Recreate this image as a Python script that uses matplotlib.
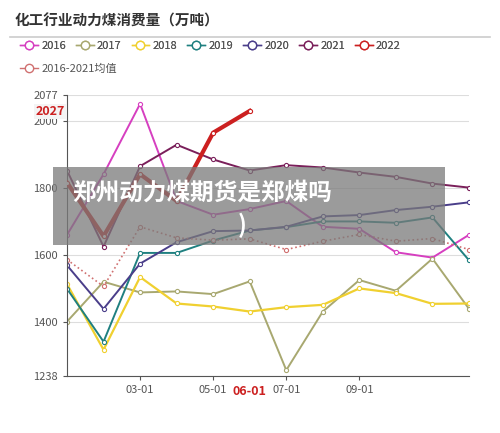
import matplotlib
matplotlib.use("Agg")
import matplotlib.pyplot as plt
from matplotlib.lines import Line2D
plt.rcParams['font.family'] = ['Noto Sans CJK SC', 'DejaVu Sans']

months = list(range(1, 13))
s2016 = [1659, 1840, 2050, 1760, 1719, 1736, 1760, 1683, 1677, 1607, 1591, 1659]
s2017 = [1400, 1519, 1487, 1490, 1482, 1520, 1255, 1430, 1524, 1492, 1588, 1438]
s2018 = [1512, 1316, 1533, 1454, 1445, 1430, 1443, 1450, 1499, 1485, 1453, 1454]
s2019 = [1498, 1340, 1605, 1605, 1642, 1672, 1682, 1699, 1699, 1695, 1711, 1583]
s2020 = [1568, 1438, 1573, 1637, 1670, 1672, 1683, 1714, 1718, 1733, 1743, 1756]
s2021 = [1851, 1624, 1864, 1928, 1884, 1851, 1867, 1860, 1845, 1832, 1812, 1800]
s2022 = [1815, 1655, 1840, 1760, 1964, 2029]
savg = [1585, 1505, 1683, 1650, 1643, 1647, 1615, 1640, 1660, 1640, 1648, 1615]
tick_months = [3, 5, 7, 9]
tick_labels = ['03-01', '05-01', '07-01', '09-01']

series = [
    ('2016', s2016, '#d63fc0', 1.4, '-'),
    ('2017', s2017, '#a8a870', 1.4, '-'),
    ('2018', s2018, '#f0d030', 1.6, '-'),
    ('2019', s2019, '#1f8080', 1.4, '-'),
    ('2020', s2020, '#4a3e8a', 1.4, '-'),
    ('2021', s2021, '#7a1f5a', 1.4, '-'),
    ('2022', s2022, '#cc2020', 3.0, '-'),
    ('2016-2021均值', savg, '#d07070', 1.2, ':'),
]

fig = plt.figure(figsize=(5, 4.33), dpi=100)
ax = fig.add_axes([0.134, 0.132, 0.804, 0.649])
for name, vals, c, lw, ls in series:
    ax.plot(months[:len(vals)], vals, color=c, lw=lw, ls=ls, marker='o', ms=3,
            mfc='white', mec=c, mew=0.8, zorder=3 if name == '2022' else 2)
ax.set_xlim(1, 12)
ax.set_ylim(1238, 2077)
ax.set_yticks([1238, 1400, 1600, 1800, 2000, 2077])
ax.set_xticks(tick_months)
ax.set_xticklabels(tick_labels)
ax.tick_params(labelsize=8, colors='#555555', length=3)
ax.grid(axis='y', color='#dddddd', lw=0.8)
for s in ['top', 'right']:
    ax.spines[s].set_visible(False)
for s in ['left', 'bottom']:
    ax.spines[s].set_color('#555555')

# axis pointer labels
ax.text(6, 1212, '06-01', color='#cc2020', fontsize=9, fontweight='bold', ha='center', va='top',
        bbox=dict(fc='white', ec='none', pad=2), zorder=10, clip_on=False)
ax.text(-0.005, 2027, '2027', color='#cc2020', fontsize=9, fontweight='bold', ha='right', va='center',
        bbox=dict(fc='#f4f4f4', ec='none', pad=1), zorder=10, clip_on=False,
        transform=ax.get_yaxis_transform())

fig.text(0.03, 0.953, '化工行业动力煤消费量（万吨）', fontsize=10.5, fontweight='bold', color='#333333', va='center')
fig.add_artist(Line2D([0.02, 0.98], [0.915, 0.915], color='#cccccc', lw=1.2))

handles = [Line2D([], [], color=c, lw=1, marker='o', mfc='white', mec=c, ms=6) for _, _, c, _, _ in series]
labels = [n for n, *_ in series]
leg1 = fig.legend(handles[:7], labels[:7], loc='center left', bbox_to_anchor=(0.02, 0.893), ncol=7,
                  frameon=False, fontsize=8, handlelength=1.6, handletextpad=0.3, columnspacing=0.9,
                  labelcolor='#555555')
fig.legend(handles[7:], labels[7:], loc='center left', bbox_to_anchor=(0.02, 0.842), frameon=False,
           fontsize=8, handlelength=1.6, handletextpad=0.3, labelcolor='#555555')
fig.add_artist(leg1)

# overlay banner
fig.patches.append(plt.Rectangle((0.106, 0.435), 0.784, 0.18, transform=fig.transFigure,
                                 fc='#7a7a7a', alpha=0.75, ec='none', zorder=20))
fig.text(0.145, 0.555, '郑州动力煤期货是郑煤吗', fontsize=17, fontweight='bold', color='white', va='center', zorder=21)
fig.text(0.475, 0.48, ')', fontsize=17, fontweight='bold', color='white', va='center', zorder=21)

fig.savefig('out.png', dpi=100)
